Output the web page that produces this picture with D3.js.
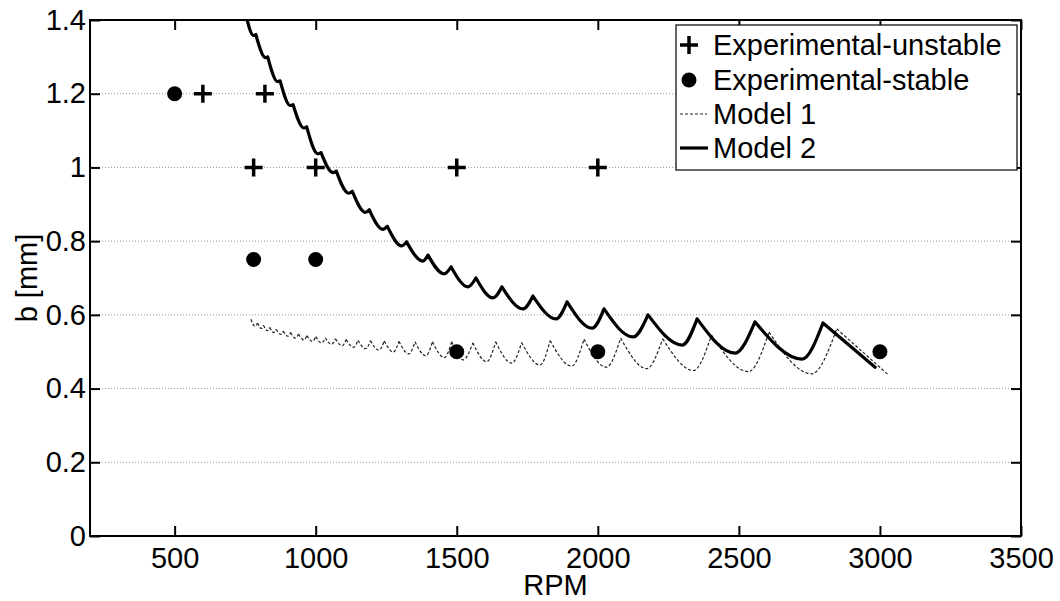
<!DOCTYPE html>
<meta charset="utf-8">
<style>
body { margin: 0; background: #fff; }
svg { font-family: "Liberation Sans", Arial, sans-serif; }
.grid line { stroke: #9a9a9a; stroke-width: 1; stroke-dasharray: 1,2; }
.axis path { display: none; }
.axis line { stroke: #000; stroke-width: 2; }
.axis text { font-size: 29px; fill: #000; font-family: "Liberation Sans", Arial, sans-serif; }
</style>
<body>
<svg width="1060" height="601"></svg>
<script src="https://d3js.org/d3.v7.min.js"></script>
<script>

// experimental points
var unstableRpm = [600, 820, 780, 1000, 1500, 2000];
var unstableB   = [1.2, 1.2, 1.0, 1.0, 1.0, 1.0];
var stableRpm   = [500, 780, 1000, 1500, 2000, 3000];
var stableB     = [1.2, 0.75, 0.75, 0.5, 0.5, 0.5];

// Model 2: lobe cusps, lobe minima, end point
var m2CuspRpm = [748, 788, 830, 874, 920, 968, 1019, 1073, 1130, 1190, 1254, 1322, 1398, 1480, 1568, 1660, 1770, 1891, 2022, 2178, 2352, 2557, 2798];
var m2CuspB   = [1.43, 1.36, 1.30, 1.235, 1.17, 1.11, 1.04, 0.99, 0.935, 0.885, 0.84, 0.798, 0.762, 0.730, 0.700, 0.676, 0.651, 0.635, 0.616, 0.600, 0.589, 0.581, 0.578];
var m2MinRpm  = [780, 822, 865, 910, 958, 1008, 1061, 1117, 1176, 1238, 1305, 1380, 1455, 1540, 1629, 1735, 1852, 1980, 2125, 2299, 2486, 2724];
var m2MinB    = [1.358, 1.298, 1.233, 1.168, 1.107, 1.037, 0.986, 0.930, 0.878, 0.832, 0.787, 0.746, 0.711, 0.676, 0.646, 0.616, 0.589, 0.564, 0.540, 0.518, 0.496, 0.480];
var m2End     = [2983, 0.458];

// Model 1: lobe peaks, lobe minima, end point
var m1PeakRpm = [770, 794, 815, 837, 860, 885, 911, 939, 969, 1000, 1034, 1070, 1108, 1150, 1194, 1243, 1295, 1352, 1414, 1482, 1557, 1638, 1730, 1831, 1951, 2081, 2230, 2403, 2607, 2847];
var m1PeakB   = [0.588, 0.578, 0.572, 0.566, 0.561, 0.556, 0.552, 0.548, 0.544, 0.541, 0.538, 0.535, 0.533, 0.531, 0.530, 0.529, 0.528, 0.527, 0.527, 0.527, 0.524, 0.527, 0.525, 0.530, 0.534, 0.537, 0.535, 0.545, 0.553, 0.562];
var m1MinRpm  = [785, 807, 829, 851, 876, 901, 928, 958, 988, 1021, 1056, 1094, 1134, 1177, 1224, 1275, 1330, 1390, 1456, 1523, 1606, 1695, 1795, 1907, 2030, 2173, 2339, 2534, 2758];
var m1MinB    = [0.569, 0.563, 0.557, 0.552, 0.547, 0.542, 0.537, 0.532, 0.528, 0.524, 0.520, 0.516, 0.512, 0.508, 0.504, 0.499, 0.494, 0.489, 0.484, 0.478, 0.473, 0.469, 0.464, 0.461, 0.458, 0.454, 0.449, 0.446, 0.440];
var m1End     = [3030, 0.437];

var xTicks = [500, 1000, 1500, 2000, 2500, 3000, 3500];
var yTicks = [0, 0.2, 0.4, 0.6, 0.8, 1, 1.2, 1.4];
var yTickLabels = ["0", "0.2", "0.4", "0.6", "0.8", "1", "1.2", "1.4"];
var legendLabels = ["Experimental-unstable", "Experimental-stable", "Model 1", "Model 2"];

var svg = d3.select("svg");
var pLeft = 90, pRight = 1021, pTop = 20, pBottom = 536;

var x = d3.scaleLinear().domain([200, 3500]).range([pLeft, pRight]);
var y = d3.scaleLinear().domain([0, 1.4]).range([pBottom, pTop]);

svg.append("defs").append("clipPath").attr("id", "clip")
    .append("rect").attr("x", pLeft).attr("y", pTop)
    .attr("width", pRight - pLeft).attr("height", pBottom - pTop);

// grid
svg.append("g").attr("class", "grid")
    .selectAll("line")
    .data(yTicks.filter(function(d) { return d > 0 && d < 1.4; }))
    .enter().append("line")
    .attr("x1", pLeft).attr("x2", pRight)
    .attr("y1", function(d) { return y(d); })
    .attr("y2", function(d) { return y(d); });

// axes, ticks inside
svg.append("g").attr("class", "axis")
    .attr("transform", "translate(0," + pBottom + ")")
    .call(d3.axisBottom(x).tickValues(xTicks).tickSizeInner(-10).tickSizeOuter(0).tickPadding(11)
        .tickFormat(d3.format("d")));
svg.append("g").attr("class", "axis")
    .attr("transform", "translate(0," + pTop + ")")
    .call(d3.axisTop(x).tickValues(xTicks).tickSizeInner(-10).tickSizeOuter(0).tickFormat(""));
svg.append("g").attr("class", "axis")
    .attr("transform", "translate(" + pLeft + ",0)")
    .call(d3.axisLeft(y).tickValues(yTicks).tickSizeInner(-10).tickSizeOuter(0).tickPadding(4)
        .tickFormat(function(d, i) { return yTickLabels[i]; }));
svg.append("g").attr("class", "axis")
    .attr("transform", "translate(" + pRight + ",0)")
    .call(d3.axisRight(y).tickValues(yTicks).tickSizeInner(-10).tickSizeOuter(0).tickFormat(""));

// lobes drawn one by one so the cusps stay sharp
var line = d3.line()
    .x(function(d) { return x(d[0]); })
    .y(function(d) { return y(d[1]); })
    .curve(d3.curveMonotoneX);

function lobePath(topRpm, topB, minRpm, minB, end) {
    var s = "";
    for (var i = 0; i < topRpm.length; i++) {
        var seg = [[topRpm[i], topB[i]]];
        if (i < minRpm.length) {
            seg.push([minRpm[i], minB[i]]);
            seg.push([topRpm[i + 1], topB[i + 1]]);
        } else {
            seg.push(end);
        }
        s += line(seg);
    }
    return s;
}

var plot = svg.append("g").attr("clip-path", "url(#clip)");

plot.append("path")
    .attr("d", lobePath(m1PeakRpm, m1PeakB, m1MinRpm, m1MinB, m1End))
    .attr("fill", "none")
    .attr("stroke", "#222")
    .attr("stroke-width", 1.2)
    .attr("stroke-dasharray", "3,2");

plot.append("path")
    .attr("d", lobePath(m2CuspRpm, m2CuspB, m2MinRpm, m2MinB, m2End))
    .attr("fill", "none")
    .attr("stroke", "#000")
    .attr("stroke-width", 3.2)
    .attr("stroke-linecap", "round")
    .attr("stroke-linejoin", "round");

var plus = "M-9,0H9M0,-9V9";

svg.append("g").selectAll("path")
    .data(unstableRpm)
    .enter().append("path")
    .attr("d", plus)
    .attr("transform", function(d, i) { return "translate(" + x(d) + "," + y(unstableB[i]) + ")"; })
    .attr("stroke", "#000")
    .attr("stroke-width", 3.5);

svg.append("g").selectAll("circle")
    .data(stableRpm)
    .enter().append("circle")
    .attr("cx", function(d) { return x(d); })
    .attr("cy", function(d, i) { return y(stableB[i]); })
    .attr("r", 7.5)
    .attr("fill", "#000");

// border
svg.append("rect")
    .attr("x", pLeft).attr("y", pTop)
    .attr("width", pRight - pLeft).attr("height", pBottom - pTop)
    .attr("fill", "none").attr("stroke", "#000").attr("stroke-width", 2);

// legend
var lg = svg.append("g");
lg.append("rect")
    .attr("x", 676).attr("y", 25).attr("width", 341).attr("height", 145)
    .attr("fill", "#fff").attr("stroke", "#000").attr("stroke-width", 1.2);

var rowY = [45, 80, 114, 148];
lg.selectAll("text")
    .data(legendLabels)
    .enter().append("text")
    .attr("x", 713)
    .attr("y", function(d, i) { return rowY[i]; })
    .attr("dy", "0.36em")
    .attr("font-size", "29px")
    .text(function(d) { return d; });

lg.append("path").attr("d", plus)
    .attr("transform", "translate(689," + rowY[0] + ")")
    .attr("stroke", "#000").attr("stroke-width", 3.5);
lg.append("circle").attr("cx", 689).attr("cy", rowY[1]).attr("r", 7.5).attr("fill", "#000");
lg.append("line").attr("x1", 680).attr("x2", 707).attr("y1", rowY[2]).attr("y2", rowY[2])
    .attr("stroke", "#222").attr("stroke-width", 1.2).attr("stroke-dasharray", "3,2");
lg.append("line").attr("x1", 680).attr("x2", 708).attr("y1", rowY[3]).attr("y2", rowY[3])
    .attr("stroke", "#000").attr("stroke-width", 3.2);

// axis titles
svg.append("text")
    .attr("x", (pLeft + pRight) / 2).attr("y", 595)
    .attr("text-anchor", "middle").attr("font-size", "29px")
    .text("RPM");
svg.append("text")
    .attr("transform", "translate(37," + ((pTop + pBottom) / 2) + ") rotate(-90)")
    .attr("text-anchor", "middle").attr("font-size", "29px")
    .text("b [mm]");

</script>
</body>
